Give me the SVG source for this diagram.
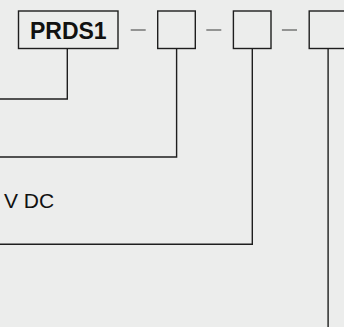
<svg xmlns="http://www.w3.org/2000/svg" width="344" height="327" viewBox="0 0 344 327">
<style>
.bg{fill:#ecedec}
.box{fill:#ecedec;stroke:#1e1e1e;stroke-width:1.4}
.ln{fill:none;stroke:#1e1e1e;stroke-width:1.4}
.dash{fill:none;stroke:#6e6e6e;stroke-width:1.4}
.t{font-family:"Liberation Sans",Arial,sans-serif;fill:#111}
</style>
<rect class="bg" x="0" y="0" width="344" height="327"/>
<g id="node-prds1">
<rect class="box" x="18.5" y="11" width="99.5" height="37.5"/>
<text class="t" x="68.3" y="39" font-size="23" font-weight="bold" text-anchor="middle">PRDS1</text>
</g>
<g id="node-box2"><rect class="box" x="157.7" y="11" width="37.6" height="37.5"/></g>
<g id="node-box3"><rect class="box" x="233.4" y="11" width="37.6" height="37.5"/></g>
<g id="node-box4"><rect class="box" x="309.2" y="11" width="37.6" height="37.5"/></g>
<g id="label-vdc"><text class="t" x="4" y="207.7" font-size="21">V DC</text></g>
<g id="connectors">
<line class="dash" x1="130.7" y1="30" x2="145.7" y2="30"/>
<line class="dash" x1="206.3" y1="30" x2="221.3" y2="30"/>
<line class="dash" x1="281.9" y1="30" x2="297" y2="30"/>
<polyline class="ln" points="67.3,48.5 67.3,99 0,99"/>
<polyline class="ln" points="176.6,48.5 176.6,157 0,157"/>
<polyline class="ln" points="252.3,48.5 252.3,244.3 0,244.3"/>
<polyline class="ln" points="328.1,48.5 328.1,327"/>
</g>
</svg>
